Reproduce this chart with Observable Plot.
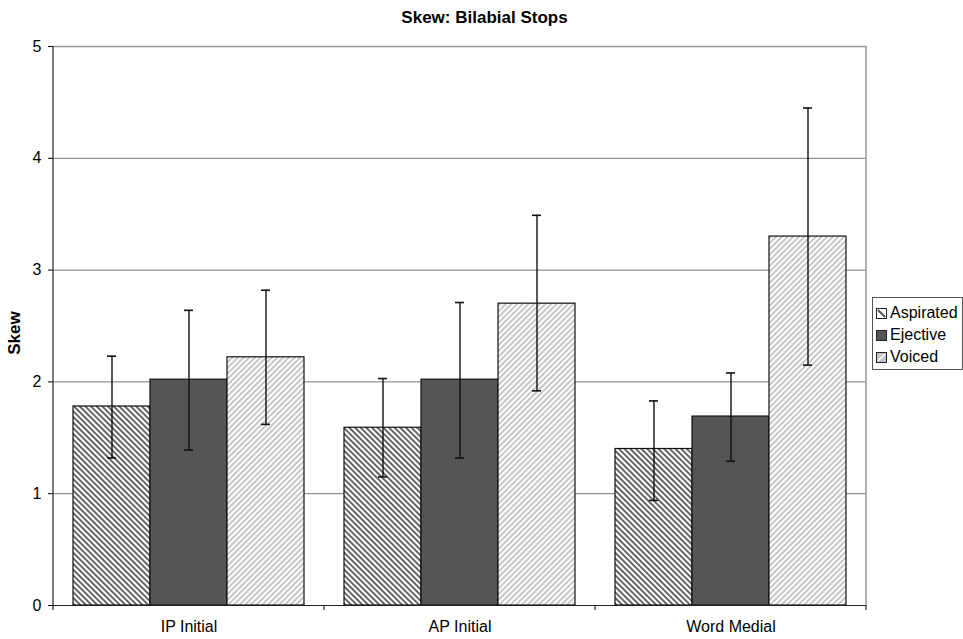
<!DOCTYPE html>
<html>
<head>
<meta charset="utf-8">
<script src="https://cdn.jsdelivr.net/npm/d3@7"></script>
<script src="https://cdn.jsdelivr.net/npm/@observablehq/plot@0.6"></script>
<style>
  body { margin: 0; background: #fff; font-family: "Liberation Sans", Arial, sans-serif; }
  #wrap { position: relative; width: 963px; height: 639px; overflow: hidden; background: #fff; }
  #title { position: absolute; left: 3px; width: 963px; top: 8px; text-align: center; font-weight: bold; font-size: 17px; color: #000; }
  #ylabel { position: absolute; left: 15px; top: 333px; transform: translate(-50%, -50%) rotate(-90deg); font-weight: bold; font-size: 17px; color: #000; white-space: nowrap; }
  #legend { position: absolute; left: 872px; top: 297px; width: 91px; height: 73px; border: 1px solid #555; box-sizing: border-box; background: #fff; padding-top: 4px; }
  .item { display: flex; align-items: center; height: 22px; font-size: 16px; color: #000; padding-left: 3px; white-space: nowrap; }
  .item svg { margin-right: 3px; flex: none; }
  #chart { position: absolute; left: 0; top: 0; }
</style>
</head>
<body>
<div id="wrap">
  <div id="chart"></div>
  <div id="title">Skew: Bilabial Stops</div>
  <div id="ylabel">Skew</div>
  <div id="legend"></div>
</div>
<script>
// ---- data ----
const categories = ["IP Initial", "AP Initial", "Word Medial"];
const series = ["Aspirated", "Ejective", "Voiced"];
const yTicks = [0, 1, 2, 3, 4, 5];

const aspiratedMean = [1.78, 1.59, 1.40];
const aspiratedLow  = [1.32, 1.15, 0.94];
const aspiratedHigh = [2.23, 2.03, 1.83];

const ejectiveMean = [2.02, 2.02, 1.69];
const ejectiveLow  = [1.39, 1.32, 1.29];
const ejectiveHigh = [2.64, 2.71, 2.08];

const voicedMean = [2.22, 2.70, 3.30];
const voicedLow  = [1.62, 1.92, 2.15];
const voicedHigh = [2.82, 3.49, 4.45];

const seriesData = {
  Aspirated: [aspiratedMean, aspiratedLow, aspiratedHigh],
  Ejective: [ejectiveMean, ejectiveLow, ejectiveHigh],
  Voiced: [voicedMean, voicedLow, voicedHigh]
};
const rows = [];
categories.forEach((c, i) => {
  series.forEach(s => {
    const [m, lo, hi] = seriesData[s];
    rows.push({category: c, series: s, mean: m[i], low: lo[i], high: hi[i]});
  });
});

const fills = ["url(#hatchAsp)", "#555555", "url(#hatchVoi)"];

const W = 963, H = 639, ML = 53, MR = 97, MT = 46, MB = 34;

const plot = Plot.plot({
  width: W, height: H,
  marginLeft: ML, marginRight: MR, marginTop: MT, marginBottom: MB,
  style: { fontFamily: "'Liberation Sans', Arial, sans-serif", fontSize: "16px", background: "transparent", color: "black" },
  facet: { data: rows, x: "category" },
  fx: { domain: categories, padding: 0, label: null, tickSize: 0, tickPadding: 15, axis: "bottom" },
  x: { domain: series, paddingInner: 0, paddingOuter: 0.25, axis: null },
  y: { domain: [0, 5], ticks: yTicks, tickSize: 5, tickPadding: 7, label: null, tickFormat: d3.format("d") },
  color: { domain: series, range: fills },
  marks: [
    Plot.ruleY(yTicks.filter(t => t > 0 && t < 5), { stroke: "#777", strokeWidth: 1 }),
    Plot.ruleY([5], { stroke: "#999", strokeWidth: 1.5 }),
    Plot.barY(rows, { x: "series", y: "mean", fill: "series", stroke: "#111", strokeWidth: 1.2 }),
    Plot.ruleX(rows, { x: "series", y1: "low", y2: "high", stroke: "#111", strokeWidth: 1.4 }),
    Plot.tickY(rows, { x: "series", y: "low", stroke: "#111", strokeWidth: 1.6, insetLeft: 34, insetRight: 34 }),
    Plot.tickY(rows, { x: "series", y: "high", stroke: "#111", strokeWidth: 1.6, insetLeft: 34, insetRight: 34 }),
    Plot.ruleY([0], { stroke: "#222", strokeWidth: 1.2 })
  ]
});

document.getElementById("chart").appendChild(plot);

// ---- decorations: patterns, frame edges, category separators ----
const svg = d3.select(plot.tagName.toLowerCase() === "svg" ? plot : plot.querySelector("svg"));
const defs = svg.insert("defs", ":first-child");
function hatch(id, rot, color) {
  const p = defs.append("pattern").attr("id", id)
    .attr("patternUnits", "userSpaceOnUse").attr("width", 4).attr("height", 4)
    .attr("patternTransform", `rotate(${rot})`);
  p.append("rect").attr("width", 4).attr("height", 4).attr("fill", "white");
  p.append("rect").attr("width", 2).attr("height", 4).attr("fill", color);
}
hatch("hatchAsp", -45, "#666");
hatch("hatchVoi", 45, "#c6c6c6");

const yS = plot.scale("y");
const y0 = yS.apply(0), y5 = yS.apply(5);
let edges;
try {
  const fxS = plot.scale("fx");
  edges = categories.map(c => fxS.apply(c));
  edges.push(edges[edges.length - 1] + fxS.step);
  if (edges.some(e => !isFinite(e))) throw 0;
  if (edges[0] < ML - 1) edges = edges.map(e => e + ML);
} catch (e) {
  const step = (W - ML - MR) / categories.length;
  edges = d3.range(categories.length + 1).map(i => ML + i * step);
}
const deco = svg.append("g");
deco.append("line").attr("x1", edges[0]).attr("x2", edges[0]).attr("y1", y5).attr("y2", y0)
  .attr("stroke", "#222").attr("stroke-width", 1.2);
deco.append("line").attr("x1", edges[edges.length - 1]).attr("x2", edges[edges.length - 1]).attr("y1", y5).attr("y2", y0)
  .attr("stroke", "#999").attr("stroke-width", 1.5);
edges.forEach(x => {
  deco.append("line").attr("x1", x).attr("x2", x).attr("y1", y0).attr("y2", y0 + 5)
    .attr("stroke", "#222").attr("stroke-width", 1.2);
});

// ---- legend ----
const legend = d3.select("#legend");
series.forEach((s, i) => {
  const it = legend.append("div").attr("class", "item");
  const sw = it.append("svg").attr("width", 11).attr("height", 11);
  if (i === 0) {
    sw.append("rect").attr("x", 0.5).attr("y", 0.5).attr("width", 10).attr("height", 10).attr("fill", "white").attr("stroke", "#222");
    sw.append("line").attr("x1", 2).attr("y1", 2).attr("x2", 9).attr("y2", 9).attr("stroke", "#555").attr("stroke-width", 2);
  } else if (i === 1) {
    sw.append("rect").attr("x", 0.5).attr("y", 0.5).attr("width", 10).attr("height", 10).attr("fill", "#555").attr("stroke", "#222");
  } else {
    sw.append("rect").attr("x", 0.5).attr("y", 0.5).attr("width", 10).attr("height", 10).attr("fill", "#c6c6c6").attr("stroke", "#222");
    sw.append("line").attr("x1", 2).attr("y1", 9).attr("x2", 9).attr("y2", 2).attr("stroke", "white").attr("stroke-width", 1.5);
  }
  it.append("span").text(s);
});
</script>
</body>
</html>
